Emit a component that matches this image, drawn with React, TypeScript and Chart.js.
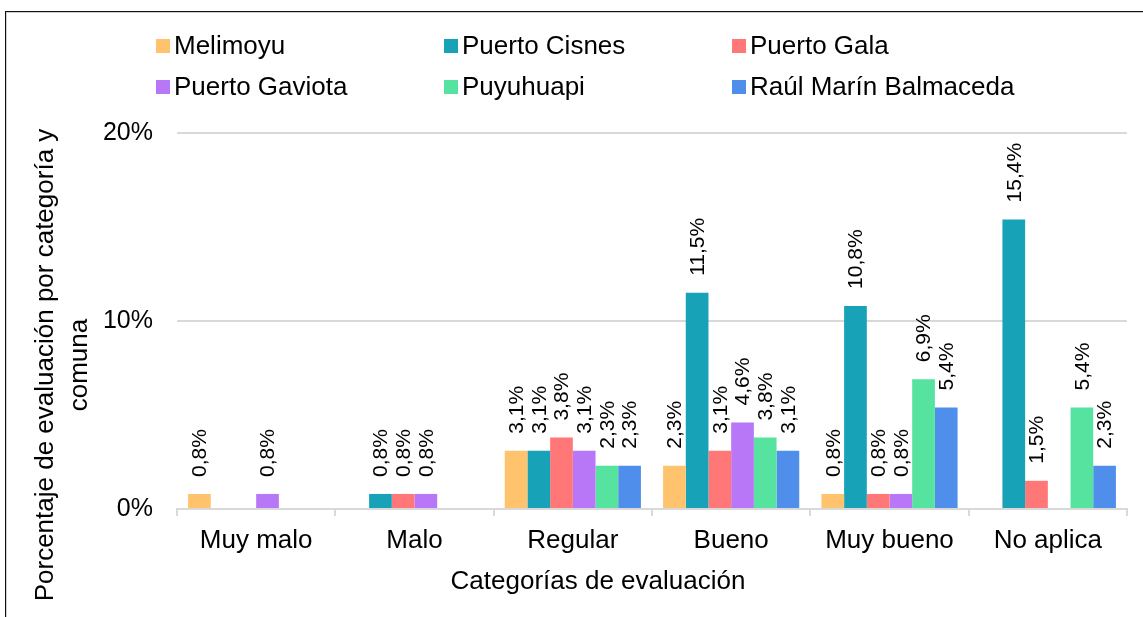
import React, { useEffect, useRef } from "react";
import { Chart, registerables } from "chart.js";

Chart.register(...registerables);

const categories = ["Muy malo", "Malo", "Regular", "Bueno", "Muy bueno", "No aplica"];
const seriesNames = ["Melimoyu", "Puerto Cisnes", "Puerto Gala", "Puerto Gaviota", "Puyuhuapi", "Raúl Marín Balmaceda"];
const melimoyu = [0.8, 0, 3.1, 2.3, 0.8, 0];
const puertoCisnes = [0, 0.8, 3.1, 11.5, 10.8, 15.4];
const puertoGala = [0, 0.8, 3.8, 3.1, 0.8, 1.5];
const puertoGaviota = [0.8, 0.8, 3.1, 4.6, 0.8, 0];
const puyuhuapi = [0, 0, 2.3, 3.8, 6.9, 5.4];
const raulMarin = [0, 0, 2.3, 3.1, 5.4, 2.3];
const seriesValues = [melimoyu, puertoCisnes, puertoGala, puertoGaviota, puyuhuapi, raulMarin];
const seriesColors = ["#FFC36E", "#17A2B8", "#FF7777", "#B877F7", "#55E39F", "#4F8EEB"];
const yTicks = [0, 10, 20];
const yTitleLines = ["Porcentaje de evaluación por categoría y", "comuna"];
const xTitle = "Categorías de evaluación";

const FONT = "'Liberation Sans', Arial, sans-serif";

const fmt = (v: number) => v.toFixed(1).replace(".", ",") + "%";

const overlayPlugin = {
  id: "overlay",
  afterDatasetsDraw(chart: any) {
    const ctx = chart.ctx;
    ctx.save();
    ctx.fillStyle = "#000";
    ctx.font = `21px ${FONT}`;
    ctx.textAlign = "left";
    ctx.textBaseline = "middle";
    chart.data.datasets.forEach((ds: any, di: number) => {
      const meta = chart.getDatasetMeta(di);
      meta.data.forEach((el: any, i: number) => {
        const v = ds.data[i];
        if (!v) return;
        ctx.save();
        ctx.translate(el.x + 1, el.y - 17);
        ctx.rotate(-Math.PI / 2);
        ctx.fillText(fmt(v), 0, 0);
        ctx.restore();
      });
    });
    ctx.restore();
  },
  afterDraw(chart: any) {
    const ctx = chart.ctx;
    ctx.save();
    ctx.font = `26px ${FONT}`;
    ctx.textBaseline = "middle";
    ctx.textAlign = "left";
    chart.data.datasets.forEach((ds: any, i: number) => {
      const col = i % 3;
      const row = Math.floor(i / 3);
      const sx = 156 + col * 288;
      const cy = 46 + row * 41;
      ctx.fillStyle = ds.backgroundColor;
      ctx.fillRect(sx, cy - 7, 14, 14);
      ctx.fillStyle = "#000";
      ctx.fillText(ds.label, sx + 18, cy + 1);
    });
    // x title
    ctx.textAlign = "center";
    ctx.fillText(xTitle, 598, 582);
    // y title
    ctx.save();
    ctx.translate(0, 365);
    ctx.rotate(-Math.PI / 2);
    ctx.textAlign = "center";
    ctx.fillStyle = "#000";
    ctx.fillText(yTitleLines[0], 0, 46);
    ctx.fillText(yTitleLines[1], 0, 80);
    ctx.restore();
    ctx.restore();
  },
};

export default function App() {
  const ref = useRef<HTMLCanvasElement | null>(null);
  useEffect(() => {
    if (!ref.current) return;
    const chart = new Chart(ref.current, {
      type: "bar",
      data: {
        labels: categories,
        datasets: seriesNames.map((name, i) => ({
          label: name,
          data: seriesValues[i],
          backgroundColor: seriesColors[i],
          borderWidth: 0,
          categoryPercentage: 0.86,
          barPercentage: 1.0,
        })),
      },
      options: {
        animation: false,
        responsive: false,
        maintainAspectRatio: false,
        layout: { padding: { top: 133, right: 16, left: 0, bottom: 0 } },
        plugins: {
          legend: { display: false },
          tooltip: { enabled: false },
          title: { display: false },
        },
        scales: {
          x: {
            grid: {
              display: true,
              drawOnChartArea: false,
              drawTicks: true,
              tickLength: 7,
              color: "#D9D9D9",
              lineWidth: 2,
              offset: true,
            },
            border: { display: true, color: "#D9D9D9", width: 2 },
            ticks: { font: { size: 26, family: FONT }, color: "#000", padding: 9, maxRotation: 0 },
            title: { display: false },
            afterFit: (s: any) => {
              s.height = 108;
            },
          },
          y: {
            min: 0,
            max: 20,
            afterBuildTicks: (s: any) => {
              s.ticks = yTicks.map((v) => ({ value: v }));
            },
            grid: { color: "#D9D9D9", lineWidth: 2, drawTicks: false },
            border: { display: false },
            ticks: {
              font: { size: 25, family: FONT },
              color: "#000",
              padding: 24,
              callback: (v: any) => v + "%",
            },
            afterFit: (s: any) => {
              s.width = 177;
            },
          },
        },
      },
      plugins: [overlayPlugin],
    });
    return () => chart.destroy();
  }, []);
  return (
    <div style={{ position: "fixed", left: 0, top: 0, width: 1143, height: 617, background: "#fff", overflow: "hidden" }}>
      <div
        style={{
          position: "absolute",
          left: 5,
          top: 11,
          width: 1160,
          height: 640,
          borderTop: "1.5px solid #111",
          borderLeft: "1.5px solid #111",
          boxShadow: "inset 1px 1px 0 #cfcfcf",
        }}
      />
      <canvas ref={ref} width={1143} height={617} style={{ position: "absolute", left: 0, top: 0 }} />
    </div>
  );
}
